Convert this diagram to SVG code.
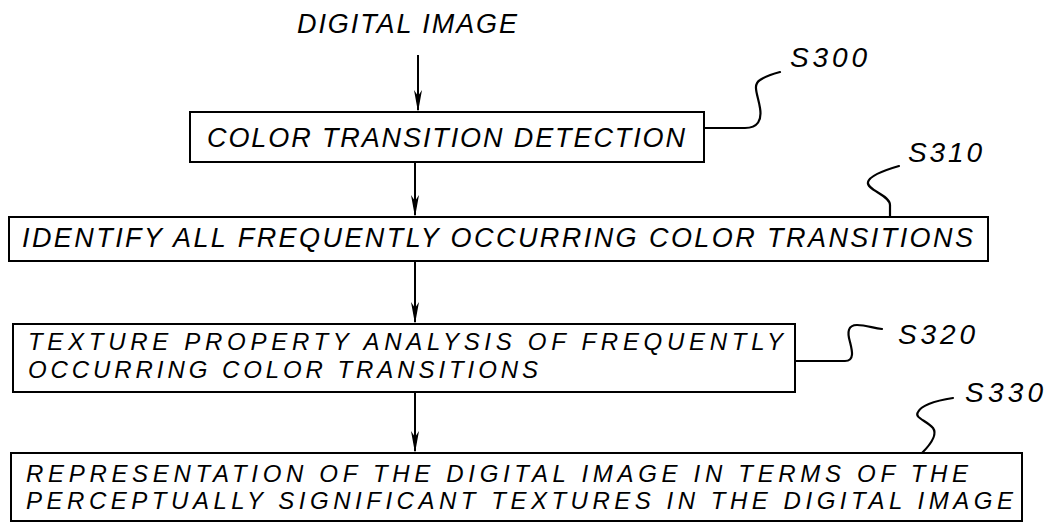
<svg xmlns="http://www.w3.org/2000/svg" width="1049" height="523" viewBox="0 0 1049 523">
<style>
.box{fill:#fff;stroke:#000;stroke-width:2}
.t{font-family:"Liberation Sans","Arial",sans-serif;font-style:italic;font-size:27px;fill:#000}
.t2{font-family:"Liberation Sans","Arial",sans-serif;font-style:italic;font-size:24px;fill:#000}
.lab{font-family:"Liberation Sans","Arial",sans-serif;font-style:italic;font-size:28px;fill:#000}
.c{fill:none;stroke:#000;stroke-width:2}
.ld{fill:none;stroke:#000;stroke-width:2.2;stroke-linecap:round}
.ah{fill:#000}
</style>
<text class="t" x="297" y="33" textLength="220" lengthAdjust="spacing">DIGITAL IMAGE</text>
<g id="connectors">
<path class="c" d="M418,55 L418,110"/>
<path class="c" d="M415,162 L415,215"/>
<path class="c" d="M415,261 L415,322"/>
<path class="c" d="M415,392 L415,451"/>
<path class="ld" d="M704,128 L745,128 C758,128 762,120 760,108 C758,95 752,85 760,80 C766,76 772,74 780,72"/>
<path class="ld" d="M890,217 L890,205 C890,195 866,190 868,182 C870,175 885,170 899,166"/>
<path class="ld" d="M795,361 L845,361 C855,361 852,350 850,342 C847,332 848,325 857,325 C866,325 873,328 882,329"/>
<path class="ld" d="M922,453 C930,445 938,435 933,428 C926,420 914,418 918,412 C922,404 940,400 953,398"/>
<path class="ah" d="M414,90 L418,96 L422,90 L418,112 Z"/>
<path class="ah" d="M411,195 L415,201 L419,195 L415,217 Z"/>
<path class="ah" d="M411,302 L415,308 L419,302 L415,324 Z"/>
<path class="ah" d="M411,431 L415,437 L419,431 L415,453 Z"/>
</g>
<g id="S300">
<rect class="box" x="190" y="112" width="514" height="50"/>
<text class="t" x="207" y="147" textLength="478" lengthAdjust="spacing">COLOR TRANSITION DETECTION</text>
<text class="lab" x="790" y="67" textLength="77" lengthAdjust="spacing">S300</text>
</g>
<g id="S310">
<rect class="box" x="9" y="217" width="979" height="44"/>
<text class="t" x="22" y="247" textLength="951" lengthAdjust="spacing">IDENTIFY ALL FREQUENTLY OCCURRING COLOR TRANSITIONS</text>
<text class="lab" x="908" y="162" textLength="74" lengthAdjust="spacing">S310</text>
</g>
<g id="S320">
<rect class="box" x="13" y="324" width="782" height="68"/>
<text class="t2" x="28" y="350" textLength="755" lengthAdjust="spacing">TEXTURE PROPERTY ANALYSIS OF FREQUENTLY</text>
<text class="t2" x="28" y="378" textLength="510" lengthAdjust="spacing">OCCURRING COLOR TRANSITIONS</text>
<text class="lab" x="898" y="344" textLength="77" lengthAdjust="spacing">S320</text>
</g>
<g id="S330">
<rect class="box" x="11" y="453" width="1011" height="68"/>
<text class="t2" x="26" y="482" textLength="942" lengthAdjust="spacing">REPRESENTATION OF THE DIGITAL IMAGE IN TERMS OF THE</text>
<text class="t2" x="26" y="509" textLength="987" lengthAdjust="spacing">PERCEPTUALLY SIGNIFICANT TEXTURES IN THE DIGITAL IMAGE</text>
<text class="lab" x="965" y="402" textLength="78" lengthAdjust="spacing">S330</text>
</g>
</svg>
